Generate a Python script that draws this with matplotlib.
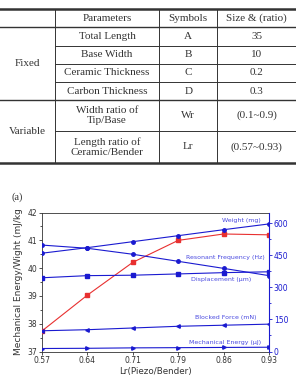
import matplotlib
matplotlib.use("Agg")
import matplotlib.pyplot as plt
from matplotlib.ticker import MultipleLocator

# table content
tab_header = ["Parameters", "Symbols", "Size & (ratio)"]
tab_groups = ["Fixed", "Variable"]
tab_params = ["Total Length", "Base Width", "Ceramic Thickness", "Carbon Thickness",
              "Width ratio of\nTip/Base", "Length ratio of\nCeramic/Bender"]
tab_symbols = ["A", "B", "C", "D", "Wr", "Lr"]
tab_sizes = ["35", "10", "0.2", "0.3", "(0.1~0.9)", "(0.57~0.93)"]

# chart data
lr = ["0.57", "0.64", "0.71", "0.79", "0.86", "0.93"]
energy_per_weight = [37.74, 39.03, 40.21, 41.0, 41.23, 41.2]
weight = [460, 486, 514, 542, 570, 597]
res_freq = [498, 483, 455, 422, 389, 355]
displacement = [345, 355, 357, 363, 369, 373]
blocked_force = [97, 102, 110, 118, 123, 128]
mech_energy = [14, 15, 17, 18, 19, 20]

W, H = 296, 376
fig = plt.figure(figsize=(W / 100, H / 100), dpi=100)

# ---- table, drawn in pixel coords ----
tax = fig.add_axes([0, 0, 1, 1])
tax.set_xlim(0, W)
tax.set_ylim(H, 0)
tax.axis("off")
lc = "#333333"
serif = ["Liberation Serif", "DejaVu Serif"]
tfs = 8

y_top, y_head, y_mid, y_bot = 9.3, 27.3, 100, 162.7
row_lines = [45.7, 63.7, 82, 131]
cols = [55, 159.3, 217.3]

tax.plot([0, W], [y_top, y_top], color=lc, lw=1.8)
tax.plot([0, W], [y_bot, y_bot], color=lc, lw=1.8)
tax.plot([0, W], [y_head, y_head], color=lc, lw=1.0)
tax.plot([0, W], [y_mid, y_mid], color=lc, lw=1.0)
for y in row_lines:
    tax.plot([cols[0], W], [y, y], color=lc, lw=0.7)
for x in cols:
    tax.plot([x, x], [y_top, y_bot], color=lc, lw=0.7)

col_c = [(cols[0] + cols[1]) / 2, (cols[1] + cols[2]) / 2, (cols[2] + W) / 2]
for i, t in enumerate(tab_header):
    tax.text(col_c[i], (y_top + y_head) / 2, t, ha="center", va="center",
             fontsize=tfs, family=serif, color=lc)

row_edges = [y_head, 45.7, 63.7, 82, y_mid, 131, y_bot]
for i in range(len(tab_params)):
    yc = (row_edges[i] + row_edges[i + 1]) / 2
    tax.text(col_c[0], yc, tab_params[i], ha="center", va="center",
             fontsize=tfs, family=serif, color=lc, linespacing=1.2)
    tax.text(col_c[1], yc, tab_symbols[i], ha="center", va="center",
             fontsize=tfs, family=serif, color=lc)
    tax.text(col_c[2], yc, tab_sizes[i], ha="center", va="center",
             fontsize=tfs, family=serif, color=lc)
tax.text(cols[0] / 2, (y_head + y_mid) / 2, tab_groups[0], ha="center", va="center",
         fontsize=tfs, family=serif, color=lc)
tax.text(cols[0] / 2, (y_mid + y_bot) / 2, tab_groups[1], ha="center", va="center",
         fontsize=tfs, family=serif, color=lc)

tax.text(12, 197, "(a)", ha="left", va="center", fontsize=7.5, family=serif, color=lc)

# ---- chart ----
blue = "#1a1ad0"
lblue = "#4a4ae0"
sans = ["DejaVu Sans"]
x = list(range(len(lr)))

ax = fig.add_axes([42 / W, 1 - 351.5 / H, 227 / W, 138.9 / H])
ax2 = ax.twinx()

ax.plot(x, energy_per_weight, color="#e83030", lw=0.8, marker="s", ms=2.5, zorder=5)
ax.set_ylim(37, 42)
ax.set_xlim(0, 5)
ax.set_xticks(x)
ax.set_xticklabels(lr)
ax.yaxis.set_major_locator(MultipleLocator(1))
ax.yaxis.set_minor_locator(MultipleLocator(0.5))
ax.tick_params(axis="both", which="both", direction="out", labelsize=5.5,
               length=2, width=0.6, pad=1.5, colors="#333333")
ax.tick_params(which="minor", length=1.2)
ax.set_ylabel("Mechanical Energy/Wight (mJ/kg", fontsize=6.5, family=sans,
              color="#333333", labelpad=3)
ax.set_xlabel("Lr(Piezo/Bender)", fontsize=6.3, family=sans, color="#333333",
              labelpad=1)
for s in ["left", "bottom", "top"]:
    ax.spines[s].set_color("#333333")
    ax.spines[s].set_linewidth(0.6)
ax.spines["right"].set_visible(False)

ax2.plot(x, weight, color=blue, lw=0.8, marker="o", ms=2.5)
ax2.plot(x, res_freq, color=blue, lw=0.8, marker="o", ms=2.5)
ax2.plot(x, displacement, color=blue, lw=0.8, marker="s", ms=2.5)
ax2.plot(x, blocked_force, color=blue, lw=0.8, marker="<", ms=2.5)
ax2.plot(x, mech_energy, color=blue, lw=0.8, marker=">", ms=2.5)
ax2.set_ylim(0, 650)
ax2.yaxis.set_major_locator(MultipleLocator(150))
ax2.yaxis.set_minor_locator(MultipleLocator(75))
ax2.tick_params(axis="y", which="both", direction="out", labelsize=5.5,
                length=2, width=0.6, pad=1.5, colors=blue)
ax2.tick_params(which="minor", length=1.2)
ax2.spines["right"].set_color(blue)
ax2.spines["right"].set_linewidth(0.8)
for s in ["left", "bottom", "top"]:
    ax2.spines[s].set_visible(False)

labels = [("Weight (mg)", 612, 4.82), ("Resonant Frequency (Hz)", 442, 4.9),
          ("Displacement (\u03bcm)", 335, 4.62), ("Blocked Force (mN)", 158, 4.72),
          ("Mechanical Energy (\u03bcJ)", 43, 4.82)]
for t, yv, xv in labels:
    ax2.text(xv, yv, t, ha="right", va="center", fontsize=4.5, family=sans,
             color=lblue)

fig.savefig("out.png", dpi=100)
